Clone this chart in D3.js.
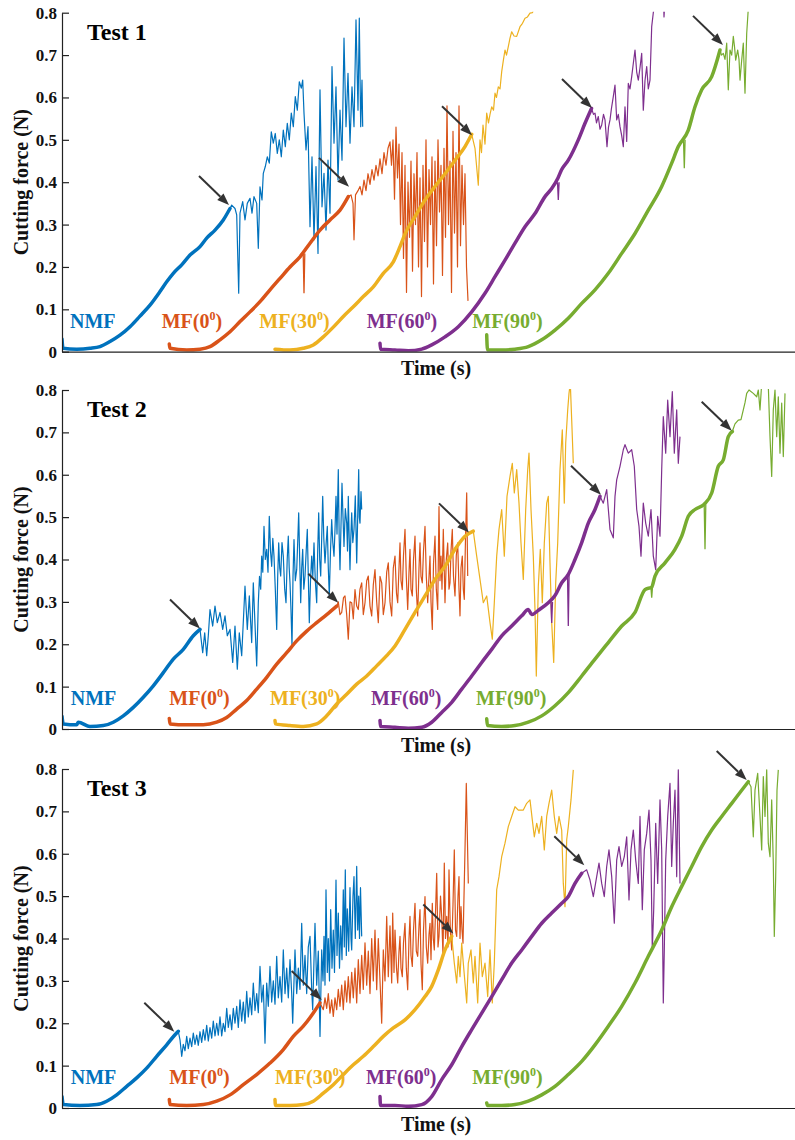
<!DOCTYPE html>
<html><head><meta charset="utf-8">
<script src="https://cdn.jsdelivr.net/npm/d3@7"></script>
<style>body{margin:0;background:#fff}svg{display:block}</style>
</head><body>
<svg id="chart" width="795" height="1140"></svg>
<script>
// ---------------- DATA (time in s, force in N) ----------------
const seriesNames = ["NMF", "MF(0", "MF(30", "MF(60", "MF(90"];
const seriesColors = ["#0072BD", "#D95319", "#EDB120", "#7E2F8E", "#77AC30"];
const panelTitles = ["Test 1", "Test 2", "Test 3"];
const yTicks = [0, 0.1, 0.2, 0.3, 0.4, 0.5, 0.6, 0.7, 0.8];

// ---- Test 1 ----
const T1_NMF_load = [[0,0.03],[0.1,0.008],[1.47,0.006],[2.8,0.008],[3.8,0.012],[4.8,0.024],[5.8,0.039],[6.8,0.059],[7.8,0.084],[8.8,0.11],[9.8,0.142],[10.47,0.165],[11.13,0.185],[11.97,0.205],[12.8,0.228],[13.8,0.248],[14.47,0.268],[15.3,0.287],[16.13,0.311],[16.8,0.338]];
const T1_NMF_fluct = [[16.97,0.346],[17.3,0.338],[17.47,0.323],[17.67,0.138],[17.8,0.327],[18.07,0.354],[18.3,0.311],[18.53,0.35],[18.8,0.362],[19.0,0.327],[19.2,0.366],[19.47,0.35],[19.63,0.244],[19.8,0.389],[20.0,0.358],[20.13,0.421],[20.33,0.437],[20.53,0.46],[20.73,0.445],[20.93,0.519],[21.13,0.492],[21.33,0.515],[21.53,0.468],[21.73,0.5],[21.93,0.46],[22.13,0.523],[22.33,0.484],[22.53,0.539],[22.73,0.5],[22.93,0.563],[23.13,0.531],[23.33,0.602],[23.53,0.57],[23.73,0.637],[23.93,0.622],[24.07,0.641],[24.2,0.563],[24.4,0.476],[24.6,0.531],[24.8,0.295],[25.0,0.46],[25.2,0.264],[25.4,0.437],[25.6,0.232],[25.8,0.618],[26.0,0.342],[26.2,0.421],[26.4,0.287],[26.6,0.452],[26.8,0.327],[27.0,0.673],[27.2,0.492],[27.4,0.625],[27.6,0.405],[27.8,0.57],[28.0,0.452],[28.2,0.74],[28.4,0.531],[28.6,0.657],[28.8,0.492],[29.0,0.625],[29.2,0.531],[29.4,0.783],[29.6,0.57],[29.73,0.787],[29.87,0.531],[30.0,0.641],[30.07,0.531]];
const T1_MF0_load = [[10.73,0.018],[10.8,0.008],[12.47,0.004],[13.8,0.006],[14.8,0.012],[15.8,0.028],[16.8,0.047],[17.8,0.071],[18.8,0.094],[19.8,0.118],[20.8,0.146],[21.8,0.173],[22.8,0.2],[23.8,0.224],[24.8,0.256],[25.8,0.287],[26.8,0.311],[27.8,0.334],[28.63,0.366]];
const T1_MF0_fluct = [[28.9,0.37],[29.1,0.35],[29.2,0.264],[29.35,0.37],[29.6,0.38],[29.8,0.39],[30.0,0.37],[30.2,0.405],[30.4,0.38],[30.6,0.42],[30.8,0.395],[31.0,0.43],[31.2,0.405],[31.4,0.44],[31.6,0.415],[31.8,0.455],[32.0,0.42],[32.2,0.47],[32.4,0.44],[32.6,0.48],[32.8,0.495],[32.95,0.44],[33.1,0.5],[33.25,0.36],[33.4,0.53],[33.55,0.41],[33.7,0.49],[33.85,0.30],[34.0,0.47],[34.15,0.22],[34.3,0.44],[34.45,0.14],[34.6,0.4],[34.75,0.27],[34.9,0.45],[35.05,0.19],[35.2,0.42],[35.35,0.3],[35.5,0.47],[35.65,0.2],[35.8,0.41],[35.95,0.13],[36.1,0.44],[36.25,0.26],[36.4,0.5],[36.55,0.2],[36.7,0.43],[36.85,0.3],[37.0,0.46],[37.15,0.16],[37.3,0.45],[37.45,0.25],[37.6,0.5],[37.75,0.33],[37.9,0.44],[38.05,0.18],[38.2,0.48],[38.35,0.27],[38.5,0.58],[38.65,0.3],[38.8,0.45],[38.95,0.14],[39.1,0.52],[39.25,0.28],[39.4,0.47],[39.55,0.2],[39.7,0.58],[39.85,0.25],[40.0,0.44],[40.15,0.3],[40.3,0.42],[40.45,0.2],[40.6,0.12]];
const T1_MF30_load = [[21.3,0.006],[22.8,0.004],[24.13,0.008],[25.13,0.016],[26.13,0.035],[27.13,0.058],[28.13,0.083],[29.13,0.106],[30.13,0.13],[31.13,0.153],[32.13,0.185],[33.13,0.212],[33.8,0.248],[34.3,0.278],[35.3,0.319],[36.3,0.358],[37.3,0.39],[38.3,0.42],[39.3,0.452],[40.3,0.484],[40.97,0.513]];
const T1_MF30_fluct = [[41.1,0.5],[41.3,0.48],[41.45,0.44],[41.63,0.393],[41.8,0.5],[41.95,0.47],[42.1,0.535],[42.3,0.49],[42.47,0.563],[42.65,0.54],[42.8,0.56],[42.97,0.578],[43.15,0.57],[43.3,0.61],[43.45,0.6],[43.63,0.625],[43.8,0.62],[43.97,0.661],[44.15,0.69],[44.3,0.712],[44.45,0.7],[44.63,0.72],[44.8,0.74],[44.97,0.755],[45.2,0.745],[45.47,0.744],[45.8,0.767],[46.05,0.775],[46.3,0.787],[46.55,0.79],[46.8,0.799],[47.05,0.8],[47.3,0.82]];
const T1_MF60_load = [[31.8,0.02],[31.85,0.006],[33.3,0.004],[34.63,0.002],[35.97,0.006],[36.97,0.016],[38.3,0.035],[39.63,0.059],[40.97,0.094],[42.3,0.138],[43.3,0.177],[44.3,0.216],[45.3,0.256],[46.3,0.295],[47.3,0.326],[48.3,0.366],[48.97,0.385],[49.6,0.41],[49.97,0.43],[50.63,0.452],[51.63,0.5],[52.3,0.539],[52.95,0.574]];
const T1_MF60_fluct = [[53.15,0.56],[53.3,0.563],[53.45,0.54],[53.63,0.555],[53.8,0.525],[53.97,0.535],[54.15,0.56],[54.3,0.547],[54.5,0.484],[54.65,0.53],[54.8,0.547],[54.95,0.575],[55.13,0.602],[55.3,0.629],[55.47,0.547],[55.63,0.56],[55.8,0.531],[55.97,0.51],[56.13,0.484],[56.3,0.578],[56.47,0.496],[56.63,0.633],[56.8,0.62],[56.97,0.649],[57.13,0.68],[57.3,0.712],[57.47,0.66],[57.63,0.641],[57.8,0.67],[57.97,0.704],[58.13,0.57],[58.3,0.64],[58.47,0.673],[58.63,0.62],[58.8,0.641],[58.97,0.767],[59.13,0.8],[59.3,0.83],[60.15,0.83],[60.2,0.79],[60.3,0.83]];
const T1_MF90_load = [[42.47,0.04],[42.55,0.004],[43.97,0.004],[45.3,0.006],[46.63,0.012],[47.97,0.028],[49.3,0.051],[50.63,0.079],[51.97,0.114],[53.3,0.146],[54.63,0.185],[55.97,0.232],[57.3,0.279],[58.63,0.334],[59.97,0.39],[60.97,0.445],[61.63,0.484],[62.63,0.523],[63.3,0.578],[63.97,0.618],[64.97,0.649],[65.8,0.712]];
const T1_MF90_fluct = [[65.95,0.70],[66.13,0.704],[66.3,0.69],[66.47,0.728],[66.63,0.618],[66.8,0.712],[66.97,0.70],[67.13,0.744],[67.25,0.72],[67.37,0.688],[67.57,0.712],[67.7,0.69],[67.8,0.641],[67.97,0.688],[68.13,0.728],[68.3,0.61],[68.47,0.751],[68.63,0.81]];
// short downward spikes inside the loading ramps: [series, time, force before, force at dip]
const T1_loadDips = [[1,24.2,0.232,0.138],[4,62.23,0.5,0.433],[3,49.63,0.4,0.358]];
const T1_arrowTips = [[16.7,0.346],[28.7,0.389],[41.0,0.511],[53.0,0.575],[66.1,0.724]];
const T1_labelT = [0.8, 9.97, 19.73, 30.47, 41.03];

// ---- Test 2 ----
const T2_NMF_load = [[0,0.03],[0.13,0.012],[1.47,0.01],[1.63,0.016],[2.8,0.006],[4.13,0.008],[5.13,0.016],[6.13,0.031],[7.13,0.051],[8.13,0.075],[9.13,0.102],[10.13,0.133],[11.13,0.165],[12.13,0.188],[13.13,0.22],[13.8,0.235]];
const T2_NMF_fluct = [[14.07,0.18],[14.27,0.227],[14.47,0.173],[14.63,0.22],[14.8,0.282],[15.07,0.243],[15.3,0.29],[15.53,0.251],[15.8,0.275],[16.07,0.235],[16.3,0.267],[16.53,0.22],[16.8,0.235],[17.07,0.157],[17.3,0.243],[17.53,0.141],[17.73,0.227],[17.97,0.173],[18.3,0.337],[18.53,0.235],[18.73,0.314],[18.97,0.204],[19.13,0.345],[19.47,0.149],[19.63,0.298],[19.75,0.36],[19.87,0.33],[19.97,0.408],[20.08,0.37],[20.2,0.478],[20.33,0.4],[20.47,0.424],[20.6,0.37],[20.73,0.502],[20.85,0.42],[20.97,0.384],[21.08,0.45],[21.2,0.408],[21.33,0.33],[21.47,0.235],[21.57,0.36],[21.67,0.439],[21.77,0.38],[21.87,0.361],[22.0,0.44],[22.13,0.408],[22.27,0.33],[22.4,0.298],[22.52,0.4],[22.63,0.455],[22.72,0.38],[22.8,0.345],[22.9,0.28],[23.0,0.196],[23.1,0.36],[23.2,0.447],[23.33,0.35],[23.47,0.376],[23.57,0.44],[23.67,0.51],[23.77,0.4],[23.87,0.298],[23.97,0.38],[24.07,0.424],[24.18,0.33],[24.3,0.361],[24.42,0.42],[24.53,0.471],[24.63,0.36],[24.73,0.251],[24.85,0.35],[24.97,0.408],[25.08,0.36],[25.2,0.439],[25.33,0.35],[25.47,0.298],[25.57,0.42],[25.67,0.51],[25.77,0.4],[25.87,0.361],[25.97,0.45],[26.07,0.549],[26.18,0.45],[26.3,0.392],[26.42,0.44],[26.53,0.478],[26.63,0.38],[26.73,0.314],[26.85,0.42],[26.97,0.494],[27.08,0.44],[27.2,0.408],[27.3,0.47],[27.4,0.549],[27.5,0.46],[27.63,0.612],[27.72,0.45],[27.8,0.376],[27.9,0.48],[28.0,0.58],[28.1,0.5],[28.2,0.431],[28.33,0.52],[28.47,0.486],[28.55,0.42],[28.63,0.549],[28.72,0.45],[28.8,0.376],[28.88,0.45],[28.97,0.51],[29.08,0.44],[29.2,0.471],[29.33,0.55],[29.47,0.392],[29.57,0.5],[29.67,0.612],[29.73,0.5],[29.8,0.486],[29.9,0.56],[29.97,0.518]];
const T2_MF0_load = [[10.73,0.025],[10.8,0.012],[12.47,0.01],[14.13,0.01],[15.47,0.016],[16.47,0.027],[17.47,0.047],[18.47,0.067],[19.47,0.094],[20.47,0.122],[21.47,0.153],[22.47,0.18],[23.47,0.208],[24.47,0.231],[25.47,0.251],[26.47,0.27],[27.47,0.29]];
const T2_MF0_fluct = [[27.63,0.3],[27.8,0.27],[27.97,0.275],[28.15,0.31],[28.3,0.314],[28.47,0.27],[28.63,0.212],[28.8,0.3],[28.97,0.298],[29.13,0.26],[29.3,0.329],[29.47,0.29],[29.63,0.282],[29.8,0.33],[29.97,0.345],[30.13,0.27],[30.3,0.298],[30.47,0.35],[30.63,0.361],[30.8,0.29],[30.97,0.267],[31.13,0.34],[31.3,0.376],[31.47,0.3],[31.63,0.251],[31.8,0.36],[31.97,0.345],[32.13,0.27],[32.3,0.298],[32.47,0.37],[32.63,0.392],[32.8,0.3],[32.97,0.267],[33.13,0.38],[33.3,0.408],[33.45,0.32],[33.57,0.298],[33.7,0.38],[33.8,0.439],[33.9,0.35],[34.03,0.329],[34.15,0.41],[34.3,0.471],[34.43,0.36],[34.57,0.282],[34.7,0.37],[34.8,0.424],[34.9,0.33],[35.03,0.314],[35.15,0.4],[35.3,0.455],[35.43,0.33],[35.57,0.267],[35.7,0.38],[35.8,0.439],[35.9,0.36],[36.03,0.345],[36.15,0.42],[36.3,0.478],[36.43,0.36],[36.57,0.298],[36.7,0.36],[36.8,0.408],[36.9,0.3],[37.03,0.235],[37.15,0.39],[37.3,0.455],[37.43,0.33],[37.57,0.282],[37.7,0.525],[37.8,0.35],[37.9,0.408],[38.0,0.33],[38.13,0.471],[38.23,0.37],[38.3,0.298],[38.43,0.4],[38.57,0.439],[38.7,0.33],[38.8,0.345],[38.9,0.42],[39.03,0.471],[39.15,0.36],[39.3,0.314],[39.43,0.41],[39.57,0.439],[39.7,0.33],[39.8,0.267],[39.9,0.38],[40.03,0.408],[40.13,0.33],[40.23,0.306],[40.35,0.45],[40.47,0.557],[40.57,0.361]];
const T2_MF30_load = [[21.3,0.02],[21.35,0.012],[22.8,0.008],[24.13,0.006],[25.47,0.012],[26.47,0.031],[27.47,0.059],[28.47,0.082],[29.47,0.106],[30.47,0.125],[31.47,0.149],[32.47,0.173],[33.3,0.196],[34.3,0.235],[35.3,0.275],[36.3,0.314],[37.3,0.353],[38.3,0.384],[39.3,0.424],[40.3,0.455],[41.13,0.467]];
const T2_MF30_fluct = [[41.47,0.408],[41.8,0.353],[42.13,0.298],[42.47,0.314],[42.8,0.251],[43.03,0.212],[43.23,0.298],[43.47,0.408],[43.7,0.471],[43.97,0.518],[44.23,0.408],[44.5,0.549],[44.8,0.596],[45.03,0.627],[45.23,0.557],[45.47,0.612],[45.7,0.533],[45.9,0.439],[46.13,0.353],[46.37,0.518],[46.57,0.612],[46.7,0.651],[46.9,0.518],[47.13,0.408],[47.3,0.282],[47.43,0.125],[47.63,0.337],[47.83,0.424],[48.03,0.298],[48.23,0.439],[48.47,0.533],[48.63,0.549],[48.8,0.392],[48.97,0.251],[49.17,0.157],[49.37,0.345],[49.57,0.439],[49.8,0.612],[50.03,0.706],[50.23,0.533],[50.37,0.675],[50.57,0.753],[50.7,0.792],[50.83,0.816],[50.97,0.729],[51.13,0.627]];
const T2_MF60_load = [[31.8,0.02],[31.85,0.006],[33.3,0.004],[34.63,0.002],[35.97,0.004],[36.97,0.016],[37.97,0.039],[38.97,0.063],[39.97,0.094],[40.97,0.125],[41.97,0.157],[42.97,0.188],[43.97,0.22],[44.97,0.243],[45.97,0.267],[46.63,0.282],[46.97,0.27],[47.63,0.28],[48.63,0.298],[49.3,0.315],[49.97,0.345],[50.63,0.365],[51.3,0.4],[51.97,0.44],[52.63,0.486],[53.3,0.518],[53.8,0.549]];
const T2_MF60_fluct = [[54.13,0.533],[54.47,0.565],[54.8,0.471],[55.13,0.451],[55.3,0.549],[55.47,0.588],[55.8,0.62],[56.13,0.659],[56.3,0.671],[56.63,0.651],[56.97,0.659],[57.23,0.62],[57.47,0.518],[57.7,0.478],[57.9,0.408],[58.13,0.533],[58.37,0.486],[58.63,0.455],[58.9,0.518],[59.13,0.408],[59.37,0.376],[59.57,0.502],[59.8,0.455],[59.97,0.612],[60.13,0.737],[60.37,0.651],[60.57,0.776],[60.8,0.69],[61.03,0.796],[61.23,0.651],[61.47,0.753],[61.63,0.627],[61.8,0.69]];
const T2_MF90_load = [[42.47,0.024],[42.55,0.008],[43.97,0.006],[45.3,0.008],[46.63,0.016],[47.97,0.031],[49.3,0.055],[50.63,0.086],[51.97,0.125],[53.3,0.165],[54.63,0.204],[55.97,0.243],[57.3,0.275],[58.3,0.329],[58.97,0.335],[59.3,0.361],[60.3,0.392],[61.3,0.424],[61.97,0.455],[62.63,0.502],[63.3,0.518],[64.2,0.53],[64.97,0.557],[65.63,0.62],[66.13,0.635],[66.63,0.69],[67.03,0.702]];
const T2_MF90_fluct = [[67.3,0.72],[67.63,0.729],[67.9,0.73],[68.13,0.753],[68.3,0.77],[68.47,0.792],[68.7,0.8],[69.13,0.792],[69.47,0.784],[69.63,0.8],[69.8,0.753],[69.97,0.816],[70.3,0.83],[70.63,0.81],[70.8,0.69],[70.97,0.596],[71.13,0.753],[71.3,0.8],[71.47,0.69],[71.63,0.784],[71.8,0.651],[71.97,0.769],[72.13,0.643],[72.3,0.792]];
const T2_loadDips = [[3,48.97,0.3,0.25],[3,50.63,0.365,0.243],[4,64.3,0.53,0.424],[4,58.97,0.335,0.31]];
const T2_arrowTips = [[13.8,0.237],[27.63,0.298],[40.7,0.464],[53.9,0.553],[66.97,0.704]];
const T2_labelT = [0.87, 10.73, 20.8, 30.9, 41.4];

// ---- Test 3 ----
const T3_NMF_load = [[0,0.027],[0.13,0.008],[1.8,0.006],[3.47,0.008],[4.47,0.016],[5.47,0.031],[6.47,0.051],[7.47,0.071],[8.47,0.094],[9.47,0.122],[10.47,0.149],[11.3,0.173],[11.63,0.181]];
const T3_NMF_fluct = [[11.8,0.161],[11.97,0.122],[12.13,0.15],[12.3,0.135],[12.47,0.169],[12.63,0.14],[12.8,0.165],[12.97,0.145],[13.13,0.177],[13.3,0.15],[13.47,0.172],[13.63,0.148],[13.8,0.18],[13.97,0.155],[14.13,0.185],[14.3,0.16],[14.47,0.195],[14.63,0.158],[14.8,0.19],[14.97,0.165],[15.13,0.205],[15.3,0.17],[15.47,0.2],[15.63,0.172],[15.8,0.215],[15.97,0.17],[16.13,0.2],[16.3,0.18],[16.47,0.235],[16.63,0.19],[16.8,0.22],[16.97,0.185],[17.13,0.235],[17.3,0.2],[17.47,0.24],[17.63,0.19],[17.8,0.255],[17.97,0.205],[18.13,0.25],[18.3,0.2],[18.47,0.275],[18.63,0.215],[18.8,0.26],[18.97,0.22],[19.13,0.295],[19.3,0.23],[19.47,0.27],[19.63,0.225],[19.8,0.334],[19.97,0.25],[20.13,0.29],[20.3,0.153],[20.47,0.295],[20.63,0.24],[20.8,0.334],[20.97,0.25],[21.13,0.3],[21.3,0.245],[21.47,0.358],[21.63,0.26],[21.8,0.31],[21.97,0.25],[22.13,0.373],[22.3,0.27],[22.47,0.33],[22.63,0.26],[22.8,0.35],[22.97,0.27],[23.07,0.2],[23.2,0.3],[23.3,0.373],[23.47,0.27],[23.63,0.33],[23.8,0.28],[23.97,0.436],[24.13,0.29],[24.3,0.36],[24.47,0.27],[24.63,0.38],[24.8,0.405],[24.97,0.28],[25.07,0.232],[25.2,0.35],[25.3,0.436],[25.47,0.29],[25.63,0.37],[25.8,0.169],[25.97,0.373],[26.1,0.3],[26.2,0.405],[26.3,0.29],[26.4,0.515],[26.53,0.32],[26.63,0.4],[26.75,0.3],[26.87,0.468],[27.0,0.33],[27.13,0.42],[27.25,0.32],[27.4,0.538],[27.5,0.36],[27.63,0.46],[27.75,0.33],[27.87,0.43],[28.0,0.35],[28.13,0.515],[28.23,0.38],[28.33,0.562],[28.43,0.36],[28.53,0.47],[28.67,0.37],[28.8,0.52],[28.9,0.4],[28.97,0.373],[29.1,0.5],[29.2,0.546],[29.33,0.4],[29.47,0.57],[29.57,0.42],[29.67,0.5],[29.75,0.4],[29.85,0.52],[29.97,0.405]];
const T3_MF0_load = [[10.73,0.02],[10.8,0.008],[12.47,0.006],[14.13,0.008],[15.47,0.016],[16.8,0.031],[18.13,0.055],[19.47,0.079],[20.8,0.106],[22.13,0.138],[23.13,0.169],[24.13,0.193],[25.13,0.224],[25.8,0.248]];
const T3_MF0_fluct = [[26.13,0.232],[26.3,0.26],[26.47,0.235],[26.63,0.27],[26.8,0.224],[26.97,0.255],[27.13,0.216],[27.3,0.26],[27.47,0.232],[27.63,0.28],[27.8,0.24],[27.97,0.29],[28.13,0.232],[28.3,0.3],[28.47,0.25],[28.63,0.31],[28.8,0.248],[28.97,0.32],[29.13,0.26],[29.3,0.33],[29.47,0.248],[29.63,0.35],[29.8,0.27],[29.97,0.36],[30.13,0.28],[30.3,0.39],[30.47,0.29],[30.63,0.37],[30.8,0.27],[30.97,0.4],[31.13,0.3],[31.3,0.42],[31.47,0.279],[31.63,0.4],[31.8,0.3],[31.97,0.2],[32.13,0.373],[32.3,0.3],[32.47,0.452],[32.63,0.31],[32.8,0.43],[32.97,0.295],[33.07,0.46],[33.2,0.32],[33.3,0.42],[33.45,0.33],[33.57,0.295],[33.7,0.37],[33.8,0.405],[33.9,0.33],[34.03,0.31],[34.15,0.39],[34.3,0.436],[34.43,0.33],[34.57,0.279],[34.7,0.4],[34.8,0.452],[34.9,0.36],[35.03,0.334],[35.15,0.42],[35.3,0.483],[35.43,0.37],[35.57,0.358],[35.7,0.43],[35.8,0.468],[35.9,0.34],[36.03,0.279],[36.15,0.42],[36.3,0.499],[36.43,0.38],[36.57,0.342],[36.7,0.41],[36.8,0.436],[36.9,0.35],[37.03,0.483],[37.13,0.4],[37.23,0.373],[37.35,0.46],[37.47,0.554],[37.6,0.38],[37.7,0.405],[37.85,0.5],[37.97,0.452],[38.1,0.36],[38.23,0.578],[38.35,0.4],[38.47,0.452],[38.6,0.38],[38.7,0.562],[38.83,0.42],[38.97,0.373],[39.1,0.48],[39.23,0.609],[39.35,0.42],[39.47,0.405],[39.6,0.5],[39.7,0.546],[39.8,0.4],[39.9,0.475],[40.0,0.42],[40.1,0.389],[40.2,0.5],[40.3,0.609],[40.43,0.766],[40.53,0.648],[40.63,0.53]];
const T3_MF30_load = [[21.3,0.02],[21.35,0.006],[22.8,0.006],[24.13,0.008],[25.13,0.016],[26.13,0.035],[27.13,0.055],[28.13,0.079],[29.13,0.102],[30.13,0.122],[31.13,0.145],[32.13,0.169],[33.13,0.189],[34.3,0.208],[35.3,0.232],[36.3,0.263],[36.97,0.287],[37.63,0.326],[38.3,0.373],[38.97,0.405]];
const T3_MF30_fluct = [[39.23,0.342],[39.47,0.295],[39.63,0.358],[39.8,0.31],[39.97,0.389],[40.13,0.342],[40.3,0.295],[40.47,0.248],[40.63,0.342],[40.9,0.373],[41.13,0.295],[41.3,0.358],[41.57,0.248],[41.8,0.389],[42.03,0.31],[42.3,0.342],[42.57,0.263],[42.8,0.373],[43.03,0.248],[43.23,0.342],[43.47,0.515],[43.7,0.546],[43.97,0.593],[44.3,0.625],[44.63,0.664],[44.97,0.688],[45.3,0.711],[45.63,0.703],[46.13,0.703],[46.47,0.719],[46.8,0.727],[47.03,0.68],[47.23,0.64],[47.47,0.672],[47.7,0.648],[47.97,0.688],[48.23,0.609],[48.47,0.688],[48.7,0.719],[48.97,0.75],[49.23,0.688],[49.47,0.648],[49.7,0.688],[49.97,0.656],[50.13,0.53],[50.3,0.475],[50.47,0.633],[50.63,0.664],[50.9,0.727],[51.13,0.798]];
const T3_MF60_load = [[31.8,0.027],[31.85,0.006],[33.3,0.006],[34.63,0.004],[35.97,0.008],[36.97,0.027],[37.97,0.067],[38.97,0.102],[39.97,0.145],[40.97,0.185],[41.97,0.224],[42.97,0.263],[43.97,0.303],[44.97,0.342],[45.97,0.373],[46.97,0.405],[47.97,0.436],[48.97,0.46],[49.97,0.483],[50.63,0.499],[51.3,0.53],[51.97,0.554]];
const T3_MF60_fluct = [[52.47,0.562],[52.8,0.538],[53.13,0.499],[53.47,0.546],[53.7,0.578],[53.97,0.53],[54.23,0.499],[54.47,0.57],[54.7,0.609],[54.97,0.546],[55.23,0.436],[55.47,0.585],[55.7,0.617],[55.97,0.57],[56.23,0.593],[56.47,0.64],[56.7,0.491],[56.9,0.609],[57.13,0.656],[57.37,0.585],[57.63,0.53],[57.8,0.688],[58.03,0.468],[58.23,0.609],[58.47,0.648],[58.7,0.703],[58.9,0.585],[59.03,0.373],[59.17,0.468],[59.37,0.672],[59.57,0.53],[59.8,0.727],[59.97,0.609],[60.13,0.248],[60.23,0.373],[60.37,0.585],[60.57,0.688],[60.8,0.766],[60.97,0.57],[61.13,0.672],[61.3,0.75],[61.47,0.546],[61.63,0.798],[61.8,0.53]];
const T3_MF90_load = [[42.47,0.012],[42.55,0.006],[43.97,0.006],[45.3,0.008],[46.63,0.016],[47.97,0.031],[49.3,0.051],[50.63,0.079],[51.97,0.11],[53.3,0.149],[54.63,0.193],[55.97,0.24],[57.3,0.295],[58.63,0.358],[59.97,0.42],[60.97,0.475],[61.97,0.523],[62.97,0.57],[63.97,0.617],[64.97,0.656],[65.97,0.688],[66.97,0.719],[67.97,0.75],[68.63,0.77]];
const T3_MF90_fluct = [[68.9,0.758],[69.13,0.64],[69.3,0.75],[69.57,0.79],[69.8,0.688],[69.97,0.609],[70.13,0.782],[70.3,0.688],[70.47,0.798],[70.63,0.625],[70.8,0.593],[70.97,0.727],[71.13,0.578],[71.23,0.405],[71.37,0.546],[71.5,0.75],[71.63,0.798]];
const T3_loadDips = [];
const T3_arrowTips = [[11.23,0.18],[25.97,0.255],[39.13,0.412],[52.23,0.573],[68.47,0.774]];
const T3_labelT = [0.87, 10.73, 21.3, 30.4, 41.03];

// --------------- assemble ---------------
const panelData = [
  {load:[T1_NMF_load,T1_MF0_load,T1_MF30_load,T1_MF60_load,T1_MF90_load],
   fluct:[T1_NMF_fluct,T1_MF0_fluct,T1_MF30_fluct,T1_MF60_fluct,T1_MF90_fluct],
   dips:T1_loadDips, tips:T1_arrowTips, labelT:T1_labelT},
  {load:[T2_NMF_load,T2_MF0_load,T2_MF30_load,T2_MF60_load,T2_MF90_load],
   fluct:[T2_NMF_fluct,T2_MF0_fluct,T2_MF30_fluct,T2_MF60_fluct,T2_MF90_fluct],
   dips:T2_loadDips, tips:T2_arrowTips, labelT:T2_labelT},
  {load:[T3_NMF_load,T3_MF0_load,T3_MF30_load,T3_MF60_load,T3_MF90_load],
   fluct:[T3_NMF_fluct,T3_MF0_fluct,T3_MF30_fluct,T3_MF60_fluct,T3_MF90_fluct],
   dips:T3_loadDips, tips:T3_arrowTips, labelT:T3_labelT}
];

// --------------- layout ---------------
const FONT = "'Liberation Serif','Times New Roman',serif";
const svg = d3.select("#chart");
svg.append("rect").attr("width",795).attr("height",1140).attr("fill","#fff");
const axisLeftX = 62, axisRightX = 810;
const panelTops = [12.7, 390, 769];
const panelH = 339;
const x = d3.scaleLinear().domain([0, 74.8]).range([axisLeftX, axisRightX]);

panelData.forEach((pd, pi) => {
  const top = panelTops[pi], bottom = top + panelH;
  const y = d3.scaleLinear().domain([0, 0.8]).range([bottom, top]);
  const g = svg.append("g");

  const clipId = "clip" + pi;
  svg.append("clipPath").attr("id", clipId).append("rect")
    .attr("x", axisLeftX).attr("y", top - 1).attr("width", axisRightX - axisLeftX).attr("height", panelH + 1);

  const lines = g.append("g").attr("clip-path", `url(#${clipId})`);
  const smooth = d3.line().x(d => x(d[0])).y(d => y(d[1])).curve(d3.curveMonotoneX);
  const raw = d3.line().x(d => x(d[0])).y(d => y(d[1]));

  pd.load.forEach((ld, si) => {
    const fl = [ld[ld.length - 1]].concat(pd.fluct[si]);
    lines.append("path").attr("d", raw(fl)).attr("fill", "none")
      .attr("stroke", seriesColors[si]).attr("stroke-width", 1.2).attr("stroke-linejoin", "round");
    lines.append("path").attr("d", smooth(ld)).attr("fill", "none")
      .attr("stroke", seriesColors[si]).attr("stroke-width", 3.5).attr("stroke-linejoin", "round").attr("stroke-linecap", "round");
  });
  pd.dips.forEach(dp => {
    const pts = [[dp[1] - 0.08, dp[2]], [dp[1], dp[3]], [dp[1] + 0.08, dp[2]]];
    lines.append("path").attr("d", raw(pts)).attr("fill", "none")
      .attr("stroke", seriesColors[dp[0]]).attr("stroke-width", 1.3);
  });

  // axes
  const yAxis = d3.axisLeft(y).tickValues(yTicks).tickSizeInner(-7).tickSizeOuter(0).tickPadding(5)
    .tickFormat(d => d === 0 ? "0" : d3.format(".1f")(d));
  const ya = g.append("g").attr("transform", `translate(${axisLeftX},0)`).call(yAxis);
  ya.selectAll("text").attr("font-family", FONT).attr("font-weight", "bold").attr("font-size", 17).attr("fill", "#111");
  ya.selectAll("path,line").attr("stroke", "#222").attr("stroke-width", 1.2);

  const xAxis = d3.axisBottom(x).tickValues([]).tickSizeOuter(0);
  const xa = g.append("g").attr("transform", `translate(0,${bottom})`).call(xAxis);
  xa.selectAll("path").attr("stroke", "#222").attr("stroke-width", 1.2);

  // titles
  g.append("text").attr("x", (axisLeftX + axisRightX) / 2).attr("y", bottom + 23)
    .attr("text-anchor", "middle").attr("font-family", FONT).attr("font-weight", "bold")
    .attr("font-size", 20).attr("fill", "#111").text("Time (s)");
  g.append("text").attr("transform", `translate(28,${(top + bottom) / 2}) rotate(-90)`)
    .attr("text-anchor", "middle").attr("font-family", FONT).attr("font-weight", "bold")
    .attr("font-size", 20).attr("fill", "#111").text("Cutting force (N)");
  g.append("text").attr("x", 87).attr("y", top + 27)
    .attr("font-family", FONT).attr("font-weight", "bold").attr("font-size", 24).attr("fill", "#000")
    .text(panelTitles[pi]);

  // series labels
  seriesNames.forEach((nm, si) => {
    const t = g.append("text").attr("x", x(pd.labelT[si])).attr("y", y(0.057))
      .attr("font-family", FONT).attr("font-weight", "bold").attr("font-size", 20)
      .attr("fill", seriesColors[si]);
    t.append("tspan").text(nm);
    if (si > 0) {
      t.append("tspan").attr("font-size", 12).attr("dy", -8).text("0");
      t.append("tspan").attr("dy", 8).text(")");
    }
  });

  // arrows
  const ux = 0.719, uy = 0.695, px = -uy, py = ux;
  pd.tips.forEach(tp => {
    const tx = x(tp[0]), ty = y(tp[1]);
    const sx = tx - 30, sy = ty - 29;
    const bx = tx - 12 * ux, by = ty - 12 * uy;
    g.append("line").attr("x1", sx).attr("y1", sy).attr("x2", bx).attr("y2", by)
      .attr("stroke", "#333").attr("stroke-width", 2);
    g.append("path").attr("d", `M${tx},${ty}L${bx + 4.5 * px},${by + 4.5 * py}L${bx - 4.5 * px},${by - 4.5 * py}Z`)
      .attr("fill", "#333");
  });
});
</script>
</body></html>
